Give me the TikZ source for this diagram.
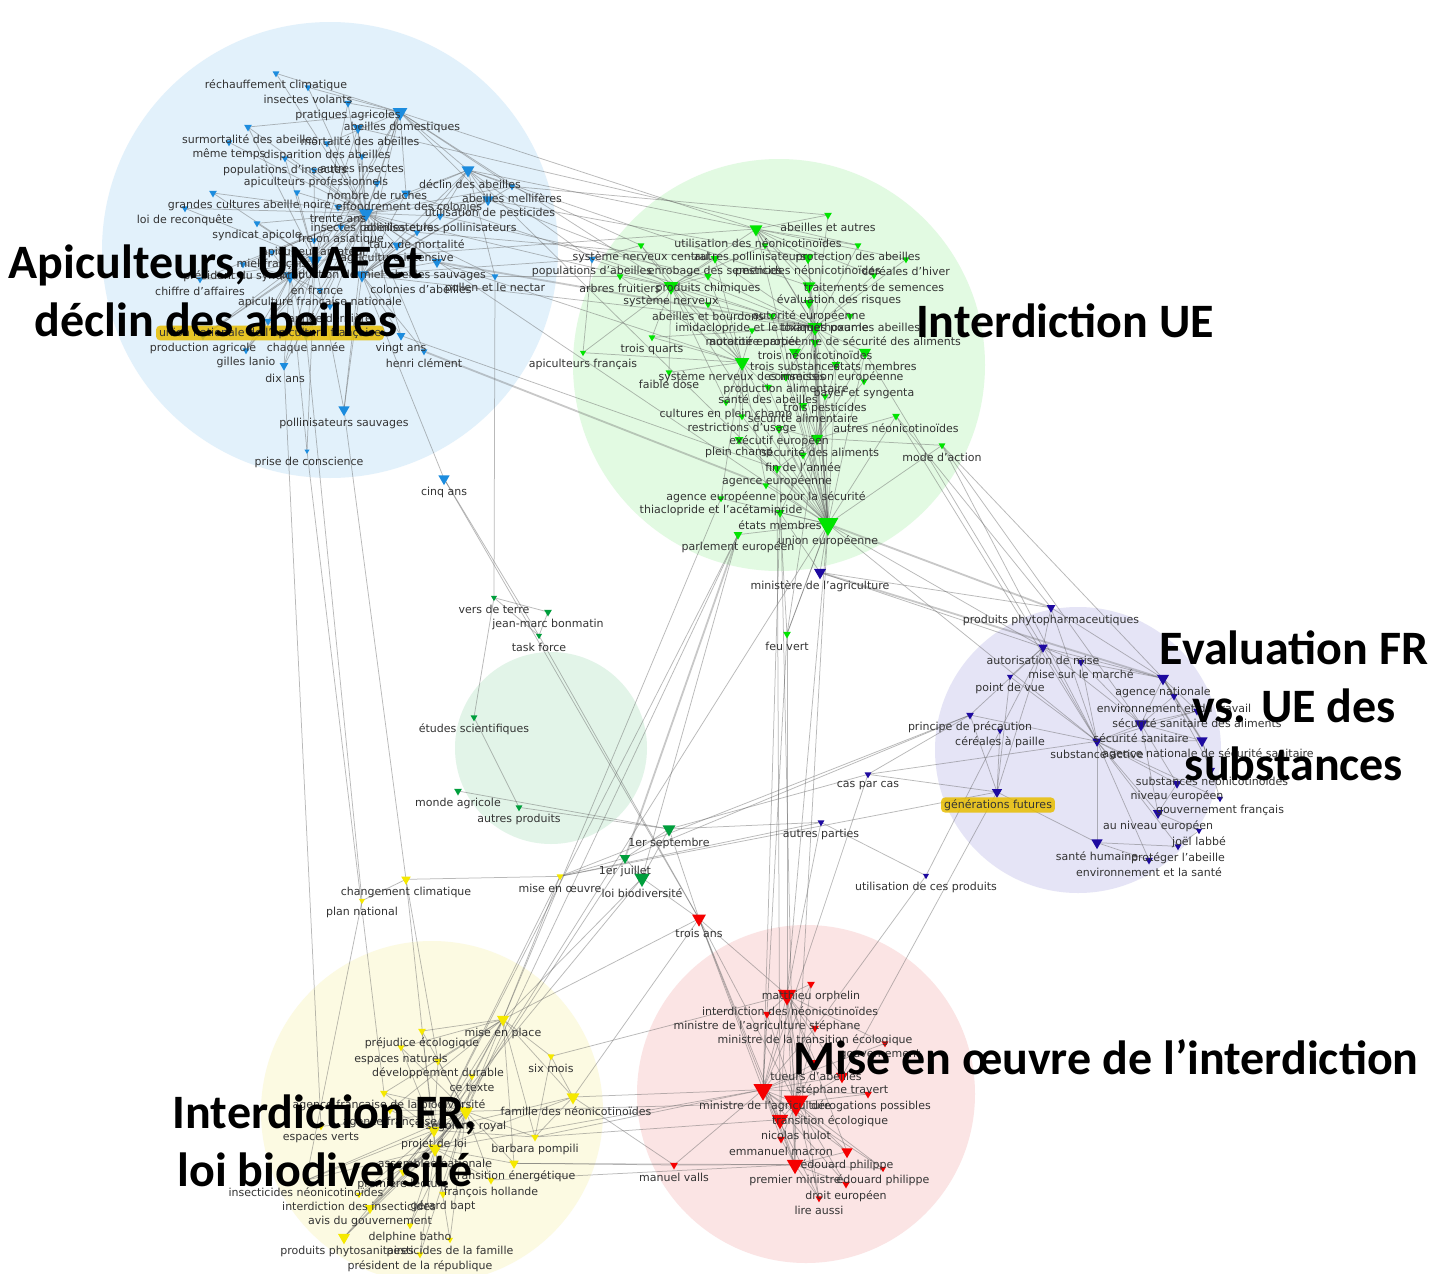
\documentclass[tikz,border=0pt]{standalone}
\usepackage{fontspec}
\setmainfont{DejaVu Sans}
\newfontfamily\titlefont{Carlito}
\usetikzlibrary{shapes.geometric}

\definecolor{bgblue}{RGB}{226,241,251}
\definecolor{bggreen}{RGB}{226,250,226}
\definecolor{bgmint}{RGB}{226,244,232}
\definecolor{bgpurple}{RGB}{229,228,246}
\definecolor{bgyellow}{RGB}{252,250,226}
\definecolor{bgred}{RGB}{251,228,228}
\definecolor{cblue}{RGB}{28,140,222}
\definecolor{clime}{RGB}{0,228,0}
\definecolor{cdark}{RGB}{0,158,60}
\definecolor{cnavy}{RGB}{30,10,160}
\definecolor{cyellow}{RGB}{245,232,0}
\definecolor{cred}{RGB}{245,0,0}
\definecolor{gold}{RGB}{232,190,0}
\definecolor{linkgrey}{RGB}{100,100,100}

\pgfdeclarelayer{circles}
\pgfdeclarelayer{links}
\pgfsetlayers{circles,links,main}

\tikzset{
  tri/.style={regular polygon, regular polygon sides=3, shape border rotate=180,
    inner sep=0pt, minimum size=#1, draw=none},
  lbl/.style={font=\fontsize{11}{12}\selectfont, text=black!80, inner sep=0.5pt},
  link/.style={draw=linkgrey, line width=0.75pt, opacity=0.45},
  heavy/.style={draw=linkgrey, line width=1.8pt, opacity=0.35},
  hilite/.style={fill=gold, fill opacity=0.85, text opacity=1, rounded corners=4pt,
    inner xsep=3pt, inner ysep=2pt},
  ttl/.style={font=\titlefont\bfseries\fontsize{48}{58}\selectfont, align=center,
    text=black, inner sep=0pt},
}

% name / label x / label y / marker size / marker x offset / text
\def\bluelist{
b1/276/85/8/0/{réchauffement climatique},
b2/308/99/8/0/{insectes volants},
b3/348/115/9/0/{pratiques agricoles},
b4/402/127/17/-2/{abeilles domestiques},
b5/250/139/9/-2/{surmortalité des abeilles},
b6/360/141/12/-2/{mortalité des abeilles},
b7/229/154/8/0/{même temps},
b8/327/155/8/0/{disparition des abeilles},
b9/285/170/8/0/{populations d'insectes},
b10/362/168/8/0/{autres insectes},
b11/316/182/8/-2/{apiculteurs professionnels},
b12/470/184/15/-2/{déclin des abeilles},
b13/512/198/8/0/{abeilles mellifères},
b14/377/195/9/0/{nombre de ruches},
b15/214/205/9/-1/{grandes cultures},
b16/297/204/8/0/{abeille noire},
b17/409/206/11/-3/{effondrement des colonies},
b18/490/213/13/-2/{utilisation de pesticides},
b19/185/220/8/0/{loi de reconquête},
b20/338/219/9/0/{trente ans},
b21/372/228/17/-6/{insectes pollinisateurs},
b22/440/228/9/0/{abeilles et les pollinisateurs},
b23/257/235/8/0/{syndicat apicole},
b24/341/239/9/0/{frelon asiatique},
b25/417/244/8/0/{taux de mortalité},
b26/314/252/8/0/{apiculteur amateur},
b27/397/258/11/0/{agriculture intensive},
b28/272/264/8/0/{miel français},
b29/243/276/8/0/{président du syndicat},
b30/332/275/16/-17/{production de miel},
b31/437/275/12/0/{abeilles sauvages},
b32/317/290/15/-27/{en france},
b33/421/289/15/-59/{colonies d'abeilles},
b34/495/288/8/0/{pollen et le nectar},
b35/200/291/8/0/{chiffre d'affaires},
b36/320/302/8/0/{apiculture française nationale},
b37/330/318/8/0/{année dernière},
b39/203/348/8/0/{production agricole},
b40/306/348/10/0/{chaque année},
b41/401/348/10/0/{vingt ans},
b42/246/362/8/0/{gilles lanio},
b43/424/363/8/0/{henri clément},
b44/285/378/10/-1/{dix ans},
b45/344/423/13/0/{pollinisateurs sauvages},
b46/309/462/6/-2/{prise de conscience},
b47/444/492/13/0/{cinq ans},
b48/592/271/9/0/{populations d'abeilles}}

\def\greenlist{
g1/828/227/9/0/{abeilles et autres},
g2/758/243/15/-2/{utilisation des néonicotinoïdes},
g3/641/257/8/0/{système nerveux central},
g4/750/257/8/15/{autres pollinisateurs},
g5/858/257/8/0/{protection des abeilles},
g6/715/271/10/0/{enrobage des semences},
g7/808/271/13/0/{pesticides néonicotinoïdes},
g8/906/271/8/0/{céréales d'hiver},
g9/620/288/8/0/{arbres fruitiers},
g10/708/288/9/0/{produits chimiques},
g11/874/287/8/0/{traitements de semences},
g12/671/301/17/0/{système nerveux},
g13/839/300/15/-30/{évaluation des risques},
g14/708/316/8/0/{abeilles et bourdons},
g15/809/316/12/0/{autorité européenne},
g16/772/328/9/0/{imidaclopride et le thiaméthoxame},
g17/850/328/9/0/{toxiques pour les abeilles},
g18/752/342/8/0/{moratoire partiel},
g19/835/342/17/-20/{autorité européenne de sécurité des aliments},
g20/652/349/8/0/{trois quarts},
g21/583/364/7/0/{apiculteurs français},
g22/815/355/10/0/{trois néonicotinoïdes},
g23/795/366/14/0/{trois substances},
g24/875/366/14/-10/{états membres},
g25/742/377/17/0/{système nerveux des insectes},
g26/836/377/10/0/{commission européenne},
g27/669/384/8/0/{faible dose},
g28/786/389/10/0/{production alimentaire},
g29/864/393/8/0/{bayer et syngenta},
g30/768/399/9/0/{santé des abeilles},
g31/825/408/8/0/{trois pesticides},
g32/726/414/8/0/{cultures en plein champ},
g33/803/418/10/0/{sécurité alimentaire},
g34/742/428/8/0/{restrictions d'usage},
g35/896/428/9/0/{autres néonicotinoïdes},
g36/779/441/10/0/{exécutif européen},
g37/739/452/10/0/{plein champ},
g38/820/452/14/-3/{sécurité des aliments},
g39/942/457/8/0/{mode d'action},
g40/803/467/9/0/{fin de l'année},
g41/777/481/10/0/{agence européenne},
g42/766/497/8/0/{agence européenne pour la sécurité},
g43/721/510/8/0/{thiaclopride et l'acétamipride},
g44/780/525/10/0/{états membres},
g45/828/541/24/0/{union européenne},
g46/738/547/10/0/{parlement européen},
g47/787/646/9/0/{feu vert}}

\def\navylist{
n1/820/586/14/0/{ministère de l'agriculture},
n2/1051/620/10/0/{produits phytopharmaceutiques},
n3/1043/660/11/0/{autorisation de mise},
n4/1081/674/9/0/{mise sur le marché},
n5/1010/688/7/0/{point de vue},
n6/1163/692/14/0/{agence nationale},
n7/1174/708/9/0/{environnement et du travail},
n8/970/727/9/0/{principe de précaution},
n9/1197/723/9/0/{sécurité sanitaire des aliments},
n10/1000/742/7/0/{céréales à paille},
n11/1141/738/15/0/{sécurité sanitaire},
n12/1097/754/11/0/{substance active},
n13/1208/754/13/-6/{agence nationale de sécurité sanitaire},
n14/1212/781/7/0/{substances néonicotinoïdes},
n15/1177/796/10/0/{niveau européen},
n16/1220/810/7/0/{gouvernement français},
n17/1158/826/12/0/{au niveau européen},
n18/1199/842/7/0/{joël labbé},
n19/1097/856/13/0/{santé humaine},
n20/1178/858/8/0/{protéger l'abeille},
n21/1149/872/9/0/{environnement et la santé},
n23/868/786/8/0/{cas par cas},
n24/821/834/8/0/{autres parties},
n25/926/887/7/0/{utilisation de ces produits}}

\def\darklist{
d1/494/609/7/0/{vers de terre},
d2/548/624/9/0/{jean-marc bonmatin},
d3/539/647/7/0/{task force},
d4/474/729/8/0/{études scientifiques},
d5/458/803/9/0/{monde agricole},
d6/519/819/8/0/{autres produits},
d7/669/843/15/0/{1er septembre},
d8/625/871/12/0/{1er juillet},
d9/642/893/18/0/{loi biodiversité}}

\def\yellowlist{
y1/406/892/11/0/{changement climatique},
y2/362/912/7/0/{plan national},
y3/560/888/8/0/{mise en œuvre},
y4/503/1033/14/0/{mise en place},
y5/422/1043/9/0/{préjudice écologique},
y6/401/1059/8/0/{espaces naturels},
y7/551/1068/8/0/{six mois},
y8/438/1073/9/0/{développement durable},
y9/472/1088/8/0/{ce texte},
y10/389/1105/9/-5/{agence française de la biodiversité},
y11/576/1111/15/-3/{famille des néonicotinoïdes},
y12/390/1122/9/0/{agence française},
y13/466/1126/17/0/{ségolène royal},
y14/321/1138/8/0/{espaces verts},
y15/434/1144/14/0/{projet de loi},
y16/535/1149/9/0/{barbara pompili},
y17/435/1163/16/0/{assemblée nationale},
y18/514/1176/11/0/{transition énergétique},
y19/403/1184/9/0/{première lecture},
y20/306/1192/8/0/{insecticides néonicotinoïdes},
y21/491/1192/9/0/{françois hollande},
y22/359/1206/7/0/{interdiction des insecticides},
y23/443/1206/9/0/{gérard bapt},
y24/370/1221/12/0/{avis du gouvernement},
y25/410/1237/8/0/{delphine batho},
y26/347/1251/14/-3/{produits phytosanitaires},
y27/450/1251/7/0/{pesticides de la famille},
y28/420/1266/8/0/{président de la république}}

\def\redlist{
r0/699/933/16/0/{trois ans},
r1/811/996/9/0/{matthieu orphelin},
r2/790/1011/21/-3/{interdiction des néonicotinoïdes},
r3/767/1026/9/0/{ministre de l'agriculture stéphane},
r4/815/1040/9/0/{ministre de la transition écologique},
r5/880/1055/8/5/{gouvernement},
r7/816/1076/12/0/{tueurs d'abeilles},
r8/842/1090/14/0/{stéphane travert},
r9/765/1106/22/-2/{ministre de l'agriculture},
r10/871/1106/9/-3/{dérogations possibles},
r11/830/1121/28/-34/{transition écologique},
r12/796/1135/19/-16/{nicolas hulot},
r13/781/1151/9/0/{emmanuel macron},
r14/674/1177/9/0/{manuel valls},
r15/847/1165/13/0/{édouard philippe},
r16/795/1180/19/0/{premier ministre},
r17/883/1180/7/0/{édouard philippe},
r18/846/1196/9/0/{droit européen},
r19/819/1210/8/0/{lire aussi}}

% markers sit just above their labels
\newcommand\placemarks[2]{%
  \foreach \nm/\px/\py/\sz/\ox/\tx in #1 {%
    \node[tri=\sz, fill=#2] (\nm) at ({\px+\ox},{\py-9-\sz/3}) {};
  }}
\newcommand\placelabels[1]{%
  \foreach \nm/\px/\py/\sz/\ox/\tx in #1 {%
    \node[lbl] (\nm-t) at (\px,\py) {\tx};
  }}
% hub edges: hub / list of member numbers, members share a prefix
\newcommand\hubs[2]{%
  \foreach \hb/\mem in {#2} {%
    \foreach \k in \mem {\draw[link] (\hb.center) -- (#1\k.center);}
  }}

\begin{document}
\begin{tikzpicture}[x=1pt, y=-1pt]
\useasboundingbox (0,0) rectangle (1449,1274);

% community discs
\begin{pgfonlayer}{circles}
  \fill[white] (0,0) rectangle (1449,1274);
  \fill[bgblue]   (330,250)  circle (228pt);
  \fill[bggreen]  (779,365)  circle (206pt);
  \fill[bgmint]   (551,748)  circle (96pt);
  \fill[bgpurple] (1078,750) circle (143pt);
  \fill[bgyellow] (432,1112) circle (171pt);
  \fill[bgred]    (806,1094) circle (169pt);
\end{pgfonlayer}

% markers
\placemarks{\bluelist}{cblue}
\node[tri=9, fill=cblue] (b38) at (268,321) {};
\placemarks{\greenlist}{clime}
\placemarks{\navylist}{cnavy}
\node[tri=12, fill=cnavy] (n22) at (997,792) {};
\placemarks{\darklist}{cdark}
\placemarks{\yellowlist}{cyellow}
\placemarks{\redlist}{cred}

% co-occurrence links
\begin{pgfonlayer}{links}
  \hubs{b}{b21/{1,2,3,4,5,6,7,8,9,10,11,12,13,14,15,16,17,18,19,20,22,23,24,25,26,27,28,29,30,31,32,33,34,35,36,37,38,39,40,41,42,43,44,45},
           b30/{3,4,5,6,9,11,15,16,19,23,24,28,29,35,38,39,40,42,44,45,46},
           b33/{4,6,12,13,17,18,22,25,27,31,34,41,43,45,47,48},
           b4/{1,2,3,5,8,12,13,14,17,18,24},
           b12/{13,18,22,34,48,17,25},
           b32/{28,29,35,36,37,38,39,40,42,44,46}}
  \hubs{g}{g45/{2,7,12,13,15,16,19,22,23,24,25,26,28,30,31,33,34,35,36,37,38,39,40,41,42,43,44,46,47},
           g19/{1,2,4,5,6,7,8,10,11,13,14,15,16,17,18,20,22,23,24,26,28,29,31,33,38},
           g25/{3,6,9,10,12,14,18,20,21,27,28,30,32,34,37,42,43},
           g12/{2,3,4,6,9,10,14,16,20,21,27,32},
           g38/{22,23,24,26,29,31,33,35,36,39,40,41,44},
           g2/{1,4,5,7,8,11,13,17}}
  \hubs{n}{n12/{2,3,4,5,8,9,11,13,15,16,17,19,20,21,23},
           n11/{3,4,6,7,9,13,15,17},
           n6/{2,3,4,7,9,13},
           n3/{2,4,5,8,10}}
  \hubs{y}{y13/{4,5,6,8,9,10,12,14,15,16,17,18,19,20,21,23,24,25,26,27,28},
           y15/{4,5,6,8,9,10,11,12,16,17,19,20,22,24,26},
           y4/{5,6,7,8,9,10,11,16,17,18,12},
           y17/{18,19,20,21,22,23,24,25,26,27,28,11}}
  \hubs{r}{r9/{1,2,3,4,5,7,8,10,11,12,13,14,15,16,17,18,19},
           r11/{1,2,3,4,7,8,10,12,13,15,16,17,18,19},
           r2/{0,3,4,7,8,12,15,16,19,1,5},
           r16/{12,13,14,15,17,18,19},
           r0/{9,11,12,16}}
  \foreach \a/\b in {
      b4/g2, b4/g12, b12/g2, b12/g45, b18/g7, b18/g19, b21/g12, b21/g45,
      b22/g10, b13/g3, b34/g9, b48/g3, b48/g12, b33/g19, b31/g25,
      b41/g41, b30/g2, b25/g6, b13/g1, b12/g13, b48/g21, b17/g16, b6/g5,
      b34/d1, b47/d3, b47/r0, b46/y10, b45/y1, b44/y14, b40/y2,
      g45/n1, g44/n1, g47/g45, g47/g44, g47/g38, g47/r2, g47/r9, g45/r2,
      g44/r9, g45/r11, g41/r12, g36/r16, g46/y13, g46/y15, g45/y17, g43/y4,
      g46/d9, g39/n6, g39/n11, g35/n12, g24/n3, g45/n3,
      g45/n12, g39/n12, g35/n2,
      n22/n8, n22/n10, n22/n5, n22/n19, n22/n23, n22/n3,
      n19/n21, n19/n20, n17/n15, n17/n18, n14/n13, n16/n13, n14/n6, n18/n20,
      n1/n2, n1/n3, n23/d7, n23/n8, n24/y3, n24/n25, n22/r8, n22/y3,
      n24/r2, n23/r9, n8/y3, n25/r4, n10/n25, n8/d8,
      d1/d2, d1/d3, d1/d4, d2/d3, d3/r0, d4/d6, d5/d7, d6/d7, d7/d8, d7/d9,
      d8/d9, d8/y3, d9/y4, d9/r0, d7/r0, d7/n24, d9/y15, d8/y17,
      y1/y2, y1/y3, y1/y8, y1/y17, y2/y20, y3/y4, y3/y15, y7/y16, y7/y11,
      y11/y16, y11/r9, y11/r14, y16/r12, y18/r14, y18/r16, y13/r11, y16/r9,
      y21/r16, y17/r9, y4/r0, y7/r2, y11/r0}
    {\draw[link] (\a.center) -- (\b.center);}
  % strongest co-occurrences
  \foreach \a/\b in {b43/g42, d8/g46, n1/n6, g45/n2, b31/g19, n6/n13}
    {\draw[heavy] (\a.center) -- (\b.center);}
\end{pgfonlayer}

% labels
\placelabels{\bluelist}
\placelabels{\greenlist}
\placelabels{\navylist}
\placelabels{\darklist}
\placelabels{\yellowlist}
\placelabels{\redlist}
\node[lbl, hilite] (b38-t) at (270,333) {union nationale de l'apiculture française};
\node[lbl, hilite] (n22-t) at (998,805) {générations futures};

% community titles
\node[ttl] (t1) at (216,291) {Apiculteurs, UNAF et\\déclin des abeilles};
\node[ttl] (t2) at (1065,321) {Interdiction UE};
\node[ttl] (t3) at (1294,706) {Evaluation FR\\vs. UE des\\substances};
\node[ttl] (t4) at (1106,1057) {Mise en œuvre de l’interdiction};
\node[ttl] (t5) at (325,1141) {Interdiction FR,\\loi biodiversité};
\end{tikzpicture}
\end{document}
